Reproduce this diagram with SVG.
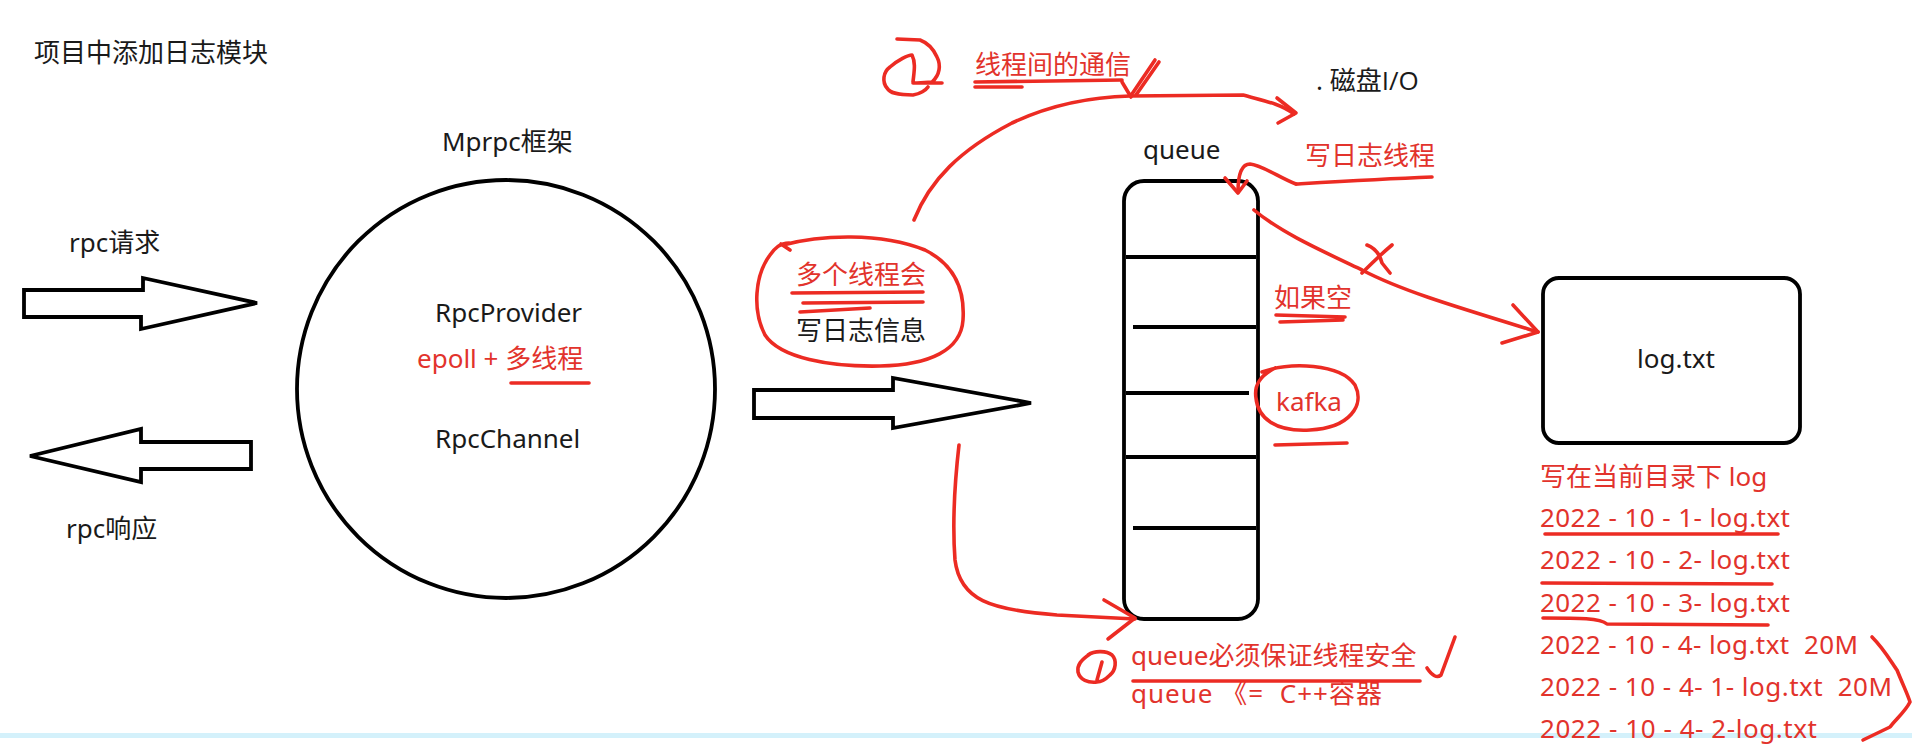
<svg xmlns="http://www.w3.org/2000/svg" width="1912" height="745" viewBox="0 0 1912 745">
<style>
text{font-family:"Noto Sans","Noto Sans CJK SC",sans-serif;font-size:26px;fill:#1a1a1a;white-space:pre}
text.r{fill:#e2332c}
.blk{fill:none;stroke:#000;stroke-width:3.8;stroke-linejoin:round}
.arr{fill:#fff;stroke:#000;stroke-width:3.8;stroke-linejoin:miter}
.red{fill:none;stroke:#ec2b23;stroke-width:3.6;stroke-linecap:round;stroke-linejoin:round}
</style>
<rect x="0" y="0" width="1912" height="745" fill="#fff"/>
<rect x="0" y="733" width="1912" height="5" fill="#d4f1fb"/>

<g id="title"><text x="34" y="62">项目中添加日志模块</text></g>

<g id="rpc-request"><text x="69" y="252">rpc请求</text></g>
<g id="rpc-response"><text x="66" y="538">rpc响应</text></g>

<g id="mprpc-framework">
<text x="442" y="151">Mprpc框架</text>
<circle class="blk" cx="506" cy="389" r="209"/>
<text x="435" y="322">RpcProvider</text>
<text class="r" x="417" y="368">epoll + 多线程</text>
<text x="435" y="448">RpcChannel</text>
</g>

<g id="multi-thread-note">
<text class="r" x="796" y="284">多个线程会</text>
<text x="796" y="340">写日志信息</text>
</g>

<g id="thread-comm-note">
<text class="r" x="975" y="74">线程间的通信</text>
</g>

<g id="disk-io"><text x="1316" y="90">. 磁盘<tspan font-family="Open Sans, sans-serif">I/O</tspan></text></g>

<g id="queue">
<text x="1143" y="159">queue</text>
<rect class="blk" x="1124" y="181" width="134" height="438" rx="20"/>
<line class="blk" x1="1126" y1="257" x2="1256" y2="257"/>
<line class="blk" x1="1133" y1="327" x2="1256" y2="327"/>
<line class="blk" x1="1126" y1="393" x2="1249" y2="393"/>
<line class="blk" x1="1126" y1="457" x2="1256" y2="457"/>
<line class="blk" x1="1133" y1="528" x2="1256" y2="528"/>
</g>

<g id="writer-thread"><text class="r" x="1305" y="165">写日志线程</text></g>
<g id="if-empty"><text class="r" x="1274" y="307">如果空</text></g>
<g id="kafka"><text class="r" x="1276" y="411">kafka</text></g>

<g id="queue-note">
<text class="r" x="1131" y="665">queue必须保证线程安全</text>
<text class="r" x="1131" y="703" textLength="251" lengthAdjust="spacing">queue 《=  C++容器</text>
</g>

<g id="logfile">
<rect class="blk" x="1543" y="278" width="257" height="165" rx="16"/>
<text x="1637" y="368">log.txt</text>
</g>

<g id="log-list">
<text class="r" x="1540" y="486">写在当前目录下 log</text>
<text class="r" x="1540" y="527" textLength="250" lengthAdjust="spacing">2022 - 10 - 1- log.txt</text>
<text class="r" x="1540" y="569" textLength="250" lengthAdjust="spacing">2022 - 10 - 2- log.txt</text>
<text class="r" x="1540" y="612" textLength="250" lengthAdjust="spacing">2022 - 10 - 3- log.txt</text>
<text class="r" x="1540" y="654" textLength="318" lengthAdjust="spacing">2022 - 10 - 4- log.txt  20M</text>
<text class="r" x="1540" y="696" textLength="352" lengthAdjust="spacing">2022 - 10 - 4- 1- log.txt  20M</text>
<text class="r" x="1540" y="738" textLength="277" lengthAdjust="spacing">2022 - 10 - 4- 2-log.txt</text>
</g>

<g id="connectors">
<polygon class="arr" points="24,290 143,290 143,278 257,303 141,329 141,317 24,317"/>
<polygon class="arr" points="30,456 141,429 141,442 251,442 251,469 141,469 141,482"/>
<polygon class="arr" points="754,390 893,390 893,378 1031,403 893,428 893,418 754,418"/>

<path class="red" d="M511,383 L589,383"/>
<path class="red" d="M914,220 C930,180 960,150 1012,123 C1050,105 1090,97 1130,96 L1243,95 C1260,100 1280,103 1294,114"/>
<path class="red" d="M1277,98 L1296,113 L1278,123"/>
<path class="red" d="M975,82 L1122,80 M975,87 L1022,87"/>
<path class="red" d="M1155,60 L1132,94 M1159,62 L1136,95 M1122,82 L1131,97"/>
<path class="red" d="M897,39 L920,40 C928,43 933,48 937,57 C941,65 940,75 932,82 L917,83 M913,83 L942,83 M913,82 C914,72 916,63 912,55 C908,55 898,60 890,67 C883,72 882,82 887,88 C890,93 897,95 913,95 C920,94 926,90 928,87"/>

<path class="red" d="M783,245 C820,235 880,232 925,250 C955,265 965,290 963,320 C961,350 930,365 880,366 C830,367 780,358 765,335 C752,310 755,275 770,255 C775,248 780,243 789,243 M781,244 L790,250"/>
<path class="red" d="M792,293 L923,292 M803,303 L923,302 M800,312 L870,308"/>

<path class="red" d="M1296,184 C1330,182 1380,179 1432,177"/>
<path class="red" d="M1296,184 C1280,178 1262,165 1250,164 C1242,164 1238,172 1238,192"/>
<path class="red" d="M1225,178 L1238,193 L1247,181"/>

<path class="red" d="M1254,210 C1280,232 1320,250 1362,270 C1400,290 1450,305 1538,332"/>
<path class="red" d="M1513,305 L1538,332 L1502,343"/>
<path class="red" d="M1392,245 C1380,255 1370,265 1362,273 M1367,245 C1375,248 1380,255 1382,263 L1390,273"/>

<path class="red" d="M1276,315 L1345,317 M1280,322 L1343,320"/>
<path class="red" d="M1262,372 C1290,362 1340,363 1355,385 C1365,405 1350,428 1310,430 C1275,432 1258,418 1256,398 C1254,385 1260,376 1275,368"/>
<path class="red" d="M1275,445 L1347,443"/>

<path class="red" d="M959,445 C955,480 952,520 955,560 C960,600 990,610 1057,615 L1135,619"/>
<path class="red" d="M1104,600 L1135,618 L1108,639"/>
<path class="red" d="M1088,655 C1095,650 1107,651 1112,655 C1117,660 1116,670 1110,675 C1105,680 1100,682 1097,682 C1088,683 1080,680 1078,672 C1077,665 1081,660 1090,654 M1102,662 L1097,680"/>

<path class="red" d="M1133,681 L1420,681"/>
<path class="red" d="M1427,668 Q1435,680 1441,675 L1455,637"/>

<path class="red" d="M1545,534 L1778,534 M1542,583 L1772,584 M1543,618 C1580,618 1600,618 1607,624 L1768,625"/>
<path class="red" d="M1872,637 C1885,650 1893,665 1897,670 C1903,685 1908,695 1910,702 C1905,712 1895,720 1890,727 L1863,740"/>
</g>
</svg>
